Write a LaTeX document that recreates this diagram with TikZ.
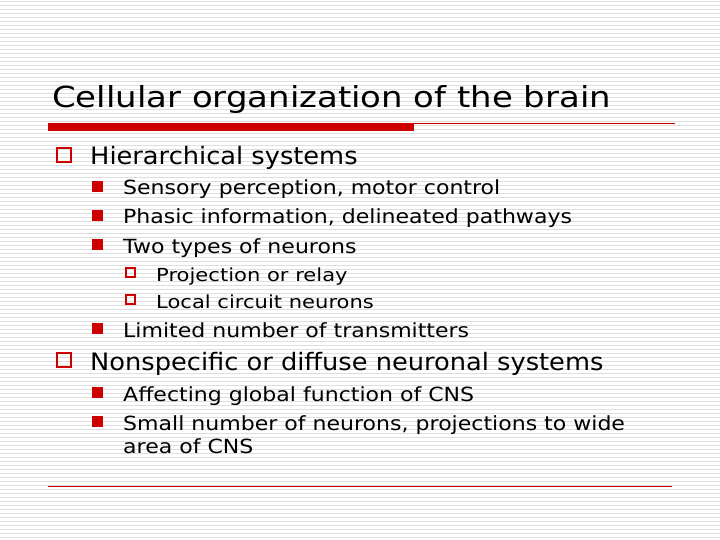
\documentclass[tikz,border=0pt]{standalone}
\usepackage{fontspec}
\setmainfont{DejaVu Sans}
\newfontfamily\fa[FakeStretch=1.17]{DejaVu Sans}
\newfontfamily\fb[FakeStretch=1.07]{DejaVu Sans}
\newfontfamily\fc[FakeStretch=1.13]{DejaVu Sans}
\newfontfamily\fd[FakeStretch=1.17]{DejaVu Sans}
\definecolor{rd}{RGB}{204,0,0}
\definecolor{stripe}{RGB}{222,222,222}
\begin{document}
\begin{tikzpicture}[x=1pt,y=-1pt,
  lone/.style={anchor=base west,inner sep=0pt,font=\fb\fontsize{24}{28}\selectfont},
  ltwo/.style={anchor=base west,inner sep=0pt,font=\fc\fontsize{19.5}{23}\selectfont},
  lthree/.style={anchor=base west,inner sep=0pt,font=\fd\fontsize{18}{21}\selectfont},
  bone/.style={draw=rd,line width=2.4pt},
  btwo/.style={fill=rd},
  bthree/.style={draw=rd,line width=1.4pt}]
\useasboundingbox (0,0) rectangle (720,540);
\fill[white] (0,0) rectangle (720,540);
\foreach \i in {0,...,134} {\draw[stripe,line width=0.8pt] (0,\i*4+1.5) -- (720,\i*4+1.5);}
\node[anchor=base west,inner sep=0pt,font=\fa\fontsize{29}{34}\selectfont] (title) at (52,108) {Cellular organization of the brain};
\draw[rd,line width=0.8pt] (48,123) -- (675,123);
\fill[rd] (48,124) rectangle (414,131);
\draw[rd,line width=0.8pt] (48,486) -- (672,486);
% level 1
\draw[bone] (57,148) rectangle (71,162);
\node[lone] (h) at (90,165) {Hierarchical systems};
\fill[btwo] (92,181) rectangle (103,192);
\node[ltwo] (a) at (123,195) {Sensory perception, motor control};
\fill[btwo] (92,210) rectangle (103,221);
\node[ltwo] (b) at (123,224) {Phasic information, delineated pathways};
\fill[btwo] (92,239) rectangle (103,250);
\node[ltwo] (c) at (123,253) {Two types of neurons};
\draw[bthree] (126,268) rectangle (135,277);
\node[lthree] (d) at (156,281) {Projection or relay};
\draw[bthree] (126,295) rectangle (135,304);
\node[lthree] (e) at (156,308) {Local circuit neurons};
\fill[btwo] (92,323) rectangle (103,334);
\node[ltwo] (f) at (123,337) {Limited number of transmitters};
\draw[bone] (57,353) rectangle (71,367);
\node[lone] (n) at (90,370) {Nonspecific or diffuse neuronal systems};
\fill[btwo] (92,387) rectangle (103,398);
\node[ltwo] (g) at (123,401) {Affecting global function of CNS};
\fill[btwo] (92,416) rectangle (103,427);
\node[ltwo] (k) at (123,430) {Small number of neurons, projections to wide};
\node[ltwo] (l) at (123,453) {area of CNS};
\end{tikzpicture}
\end{document}
